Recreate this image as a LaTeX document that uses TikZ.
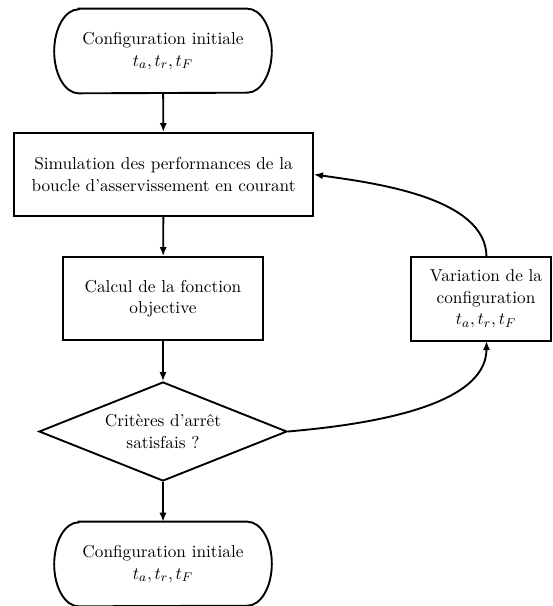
\documentclass[tikz,border=0pt]{standalone}
\usetikzlibrary{shapes.geometric,arrows.meta}
\begin{document}
\begin{tikzpicture}[x=0.635pt,y=-0.635pt,
  every node/.style={font=\fontsize{10.95}{13.6}\selectfont, align=center, inner sep=0pt},
  boxline/.style={draw, line width=1.2pt},
  terminal/.style={rectangle, minimum width={217*0.635pt}, minimum height={84*0.635pt}},
  terminalborder/.style={line width=1.2pt},
  procbox/.style={boxline, rectangle, minimum height={83*0.635pt}},
  decision/.style={boxline, diamond, aspect=2.5, minimum width={248*0.635pt}, minimum height={99*0.635pt}},
  flow/.style={line width=1.2pt, -{Latex[length=5.7pt,width=4.6pt]}}]
\useasboundingbox (0,0) rectangle (552,606);
\node[terminal] (start) at (163,51) {Configuration initiale\\$t_a, t_r, t_F$};
\draw[terminalborder] ([xshift=15.5pt]start.north west) -- ([xshift=-15.5pt]start.north east)
  arc[start angle=90, end angle=-90, x radius=15.5pt, y radius={42*0.635pt}]
  -- ([xshift=15.5pt]start.south west)
  arc[start angle=270, end angle=90, x radius=15.5pt, y radius={42*0.635pt}] -- cycle;
\node[procbox, minimum width={299*0.635pt}] (sim) at (163.5,174.5) {Simulation des performances de la\\boucle d’asservissement en courant};
\node[procbox, minimum width={200*0.635pt}] (calc) at (163,298.5) {Calcul de la fonction\\objective};
\node[decision] (dec) at (163,431.5) {Critères d’arrêt\\satisfais ?};
\node[terminal] (end) at (163,564) {Configuration initiale\\$t_a, t_r, t_F$};
\draw[terminalborder] ([xshift=15.5pt]end.north west) -- ([xshift=-15.5pt]end.north east)
  arc[start angle=90, end angle=-90, x radius=15.5pt, y radius={42*0.635pt}]
  -- ([xshift=15.5pt]end.south west)
  arc[start angle=270, end angle=90, x radius=15.5pt, y radius={42*0.635pt}] -- cycle;
\node[procbox, minimum width={140*0.635pt}, minimum height={84*0.635pt}, align=none] (var) at (481,299)
  {\hspace*{6.4pt}\begin{tabular}{@{}c@{}}Variation de la\\configuration\\$t_a, t_r, t_F$\end{tabular}};
\draw[flow] (start) -- (sim);
\draw[flow] (sim) -- (calc);
\draw[flow] (calc) -- (dec);
\draw[flow] (dec) -- (end);
\coordinate (vs) at (486.5,341);
\coordinate (vn) at (486.5,257);
\draw[flow] (dec.east) to[out=5, in=-90, looseness=0.8] (vs);
\draw[flow] (vn) to[out=90, in=-8, looseness=0.8] (sim.east);
\end{tikzpicture}
\end{document}
